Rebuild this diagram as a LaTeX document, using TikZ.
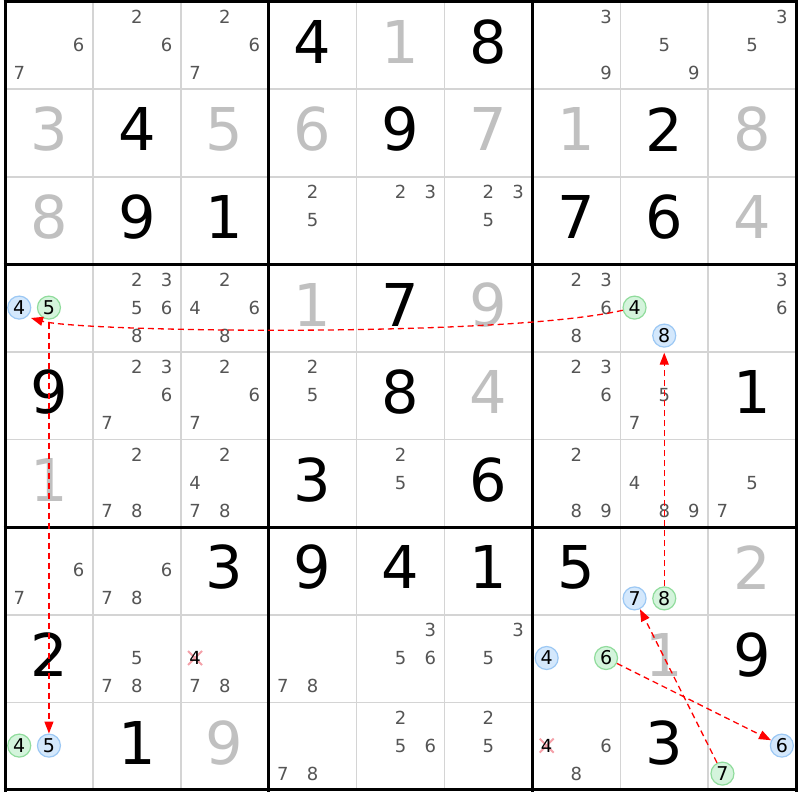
\documentclass[tikz,border=0pt]{standalone}
\usepackage{fontspec}
\setmainfont{DejaVu Sans}
\usetikzlibrary{arrows.meta,calc}
\definecolor{candgray}{HTML}{555555}
\definecolor{solvedgray}{HTML}{C0C0C0}
\definecolor{thingrid}{HTML}{D4D4D4}
\definecolor{bluefill}{HTML}{D4E8FC}
\definecolor{blueline}{HTML}{9CC8F4}
\definecolor{greenfill}{HTML}{D4F4DC}
\definecolor{greenline}{HTML}{90DC9C}
\definecolor{strikepink}{HTML}{F4A0A8}
\tikzset{
  given/.style={inner sep=0pt,font=\fontsize{59}{59}\selectfont,text=black},
  solved/.style={given,text=solvedgray},
  cand/.style={inner sep=0pt,font=\fontsize{18}{18}\selectfont,text=candgray},
  candb/.style={circle,minimum size=23pt,inner sep=0pt,draw=blueline,fill=bluefill,line width=1.2pt,font=\fontsize{19}{19}\selectfont,text=black},
  candg/.style={candb,draw=greenline,fill=greenfill},
  thinline/.style={thingrid,line width=1.6pt},
  thickline/.style={black,line width=3pt},
  strike/.style={strikepink,line width=2pt},
  arr/.style={red,line width=1.3pt,dash pattern=on 6pt off 4pt,-{Triangle[length=12pt,width=9pt]}},
}
\newcommand\gv[4][given]{\node[#1] (g#2#3) at ({5+(#3-0.5)*87.9},{1.5+(#2-0.5)*87.6-3.5}) {#4};}
\newcommand\cd[4][cand]{%
  \foreach \k in {#4}{%
    \pgfmathsetmacro\sc{mod(\k-1,3)}%
    \pgfmathsetmacro\sr{int((\k-1)/3)}%
    \node[#1] (c#2#3n\k) at ({5+(#3-0.5)*87.9+(\sc-1)*29.7},{1.5+(#2-0.5)*87.6-0.5+(\sr-1)*28}) {\k};
  }}
\newcommand\stk[3]{%
  \pgfmathsetmacro\sc{mod(#3-1,3)}%
  \pgfmathsetmacro\sr{int((#3-1)/3)}%
  \coordinate (x#1#2) at ({5+(#2-0.5)*87.9+(\sc-1)*29.7},{1.5+(#1-0.5)*87.6-0.5+(\sr-1)*28});
  \draw[strike] ($(x#1#2)+(-7,-7)$) -- ($(x#1#2)+(7,7)$);
  \draw[strike] ($(x#1#2)+(-7,7)$) -- ($(x#1#2)+(7,-7)$);
  \node[cand,text=black] (c#1#2n#3) at (x#1#2) {#3};}
\begin{document}
\begin{tikzpicture}[x=1pt,y=-1pt]
\useasboundingbox (0,0) rectangle (800,800);
\fill[white] (0,0) rectangle (800,800);
% grid
\foreach \i in {1,2,4,5,7,8}{
  \draw[thinline] ({5+\i*87.9},1.5) -- ({5+\i*87.9},790);
  \draw[thinline] (5,{1.5+\i*87.6}) -- (796,{1.5+\i*87.6});
}
\foreach \i in {0,3,6,9}{
  \draw[thickline] ({5+\i*87.9},0) -- ({5+\i*87.9},791.5);
  \draw[thickline] (3.5,{1.5+\i*87.6}) -- (797.5,{1.5+\i*87.6});
}
% given digits
\gv{1}{4}{4}\gv{1}{6}{8}\gv{2}{2}{4}\gv{2}{5}{9}\gv{2}{8}{2}
\gv{3}{2}{9}\gv{3}{3}{1}\gv{3}{7}{7}\gv{3}{8}{6}\gv{4}{5}{7}
\gv{5}{1}{9}\gv{5}{5}{8}\gv{5}{9}{1}\gv{6}{4}{3}\gv{6}{6}{6}
\gv{7}{3}{3}\gv{7}{4}{9}\gv{7}{5}{4}\gv{7}{6}{1}\gv{7}{7}{5}
\gv{8}{1}{2}\gv{8}{9}{9}\gv{9}{2}{1}\gv{9}{8}{3}
% solved digits
\gv[solved]{1}{5}{1}\gv[solved]{2}{1}{3}\gv[solved]{2}{3}{5}\gv[solved]{2}{4}{6}
\gv[solved]{2}{6}{7}\gv[solved]{2}{7}{1}\gv[solved]{2}{9}{8}\gv[solved]{3}{1}{8}
\gv[solved]{3}{9}{4}\gv[solved]{4}{4}{1}\gv[solved]{4}{6}{9}\gv[solved]{5}{6}{4}
\gv[solved]{6}{1}{1}\gv[solved]{7}{9}{2}\gv[solved]{8}{8}{1}\gv[solved]{9}{3}{9}
% candidates
\cd{1}{1}{6,7}\cd{1}{2}{2,6}\cd{1}{3}{2,6,7}\cd{1}{7}{3,9}\cd{1}{8}{5,9}\cd{1}{9}{3,5}
\cd{3}{4}{2,5}\cd{3}{5}{2,3}\cd{3}{6}{2,3,5}
\cd[candb]{4}{1}{4}\cd[candg]{4}{1}{5}\cd{4}{2}{2,3,5,6,8}\cd{4}{3}{2,4,6,8}
\cd{4}{7}{2,3,6,8}\cd[candg]{4}{8}{4}\cd[candb]{4}{8}{8}\cd{4}{9}{3,6}
\cd{5}{2}{2,3,6,7}\cd{5}{3}{2,6,7}\cd{5}{4}{2,5}\cd{5}{7}{2,3,6}\cd{5}{8}{5,7}
\cd{6}{2}{2,7,8}\cd{6}{3}{2,4,7,8}\cd{6}{5}{2,5}\cd{6}{7}{2,8,9}\cd{6}{8}{4,8,9}\cd{6}{9}{5,7}
\cd{7}{1}{6,7}\cd{7}{2}{6,7,8}\cd[candb]{7}{8}{7}\cd[candg]{7}{8}{8}
\cd{8}{2}{5,7,8}\stk{8}{3}{4}\cd{8}{3}{7,8}\cd{8}{4}{7,8}\cd{8}{5}{3,5,6}\cd{8}{6}{3,5}
\cd[candb]{8}{7}{4}\cd[candg]{8}{7}{6}
\cd[candg]{9}{1}{4}\cd[candb]{9}{1}{5}\cd{9}{4}{7,8}\cd{9}{5}{2,5,6}\cd{9}{6}{2,5}
\stk{9}{7}{4}\cd{9}{7}{6,8}\cd[candb]{9}{9}{6}\cd[candg]{9}{9}{7}
% arrows
\coordinate (t1) at (31,318);
\draw[arr] (c48n4) .. controls (500,338) and (80,332) .. (t1);
\draw[arr,shorten <=3pt] (c41n5) -- (c91n5);
\draw[arr,shorten >=5pt] (c78n8) -- (c48n8);
\draw[arr] (c87n6) -- (c99n6);
\draw[arr] (c99n7) -- (c78n7);
\end{tikzpicture}
\end{document}
